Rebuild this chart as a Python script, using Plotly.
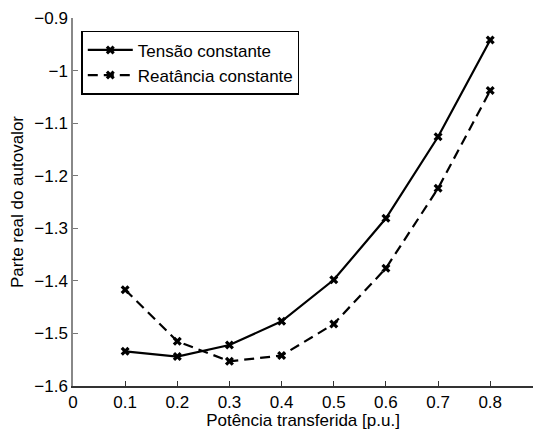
import plotly.graph_objects as go

potencia = [0.1, 0.2, 0.3, 0.4, 0.5, 0.6, 0.7, 0.8]
tensao_const = [-1.534, -1.544, -1.522, -1.477, -1.398, -1.281, -1.126, -0.942]
reatancia_const = [-1.417, -1.515, -1.553, -1.542, -1.482, -1.376, -1.224, -1.038]

xticks = [0, 0.1, 0.2, 0.3, 0.4, 0.5, 0.6, 0.7, 0.8]
yticks = [-1.6, -1.5, -1.4, -1.3, -1.2, -1.1, -1.0, -0.9]
ytext = ["\u22121.6", "\u22121.5", "\u22121.4", "\u22121.3", "\u22121.2", "\u22121.1", "\u22121", "\u22120.9"]

font = "Liberation Sans, Arial, sans-serif"

fig = go.Figure()
fig.add_trace(go.Scatter(
    x=potencia, y=tensao_const, mode="lines+markers", name="Tensão constante",
    line=dict(color="black", width=2.2),
    marker=dict(symbol="x", size=8, color="black"),
))
fig.add_trace(go.Scatter(
    x=potencia, y=reatancia_const, mode="lines+markers", name="Reatância constante",
    line=dict(color="black", width=2.2, dash="10px,6px"),
    marker=dict(symbol="x", size=8, color="black"),
))

fig.update_layout(
    width=533, height=430,
    margin=dict(l=73, r=0, t=18, b=44),
    paper_bgcolor="white", plot_bgcolor="white",
    font=dict(family=font, size=17, color="black"),
    showlegend=True,
    legend=dict(
        x=0.018, y=0.965, xanchor="left", yanchor="top",
        bgcolor="white", bordercolor="black", borderwidth=1.5,
        font=dict(family=font, size=17, color="black"),
        tracegroupgap=0, itemwidth=45,
    ),
    xaxis=dict(
        range=[0, 0.882], tickvals=xticks, ticktext=[str(v) if v else "0" for v in xticks],
        ticks="inside", ticklen=5, tickcolor="#333", showgrid=False, zeroline=False,
        showline=True, linecolor="#333", linewidth=1.5, mirror=False,
        title=dict(text="Potência transferida [p.u.]", font=dict(size=17), standoff=0),
        tickfont=dict(size=17),
    ),
    yaxis=dict(
        range=[-1.6, -0.9], tickvals=yticks, ticktext=ytext,
        ticks="inside", ticklen=5, tickcolor="#777", showgrid=False, zeroline=False,
        showline=True, linecolor="#888", linewidth=1.5, mirror=False,
        title=dict(text="Parte real do autovalor", font=dict(size=17), standoff=6),
        tickfont=dict(size=17),
    ),
)

fig.write_html("out.html")
